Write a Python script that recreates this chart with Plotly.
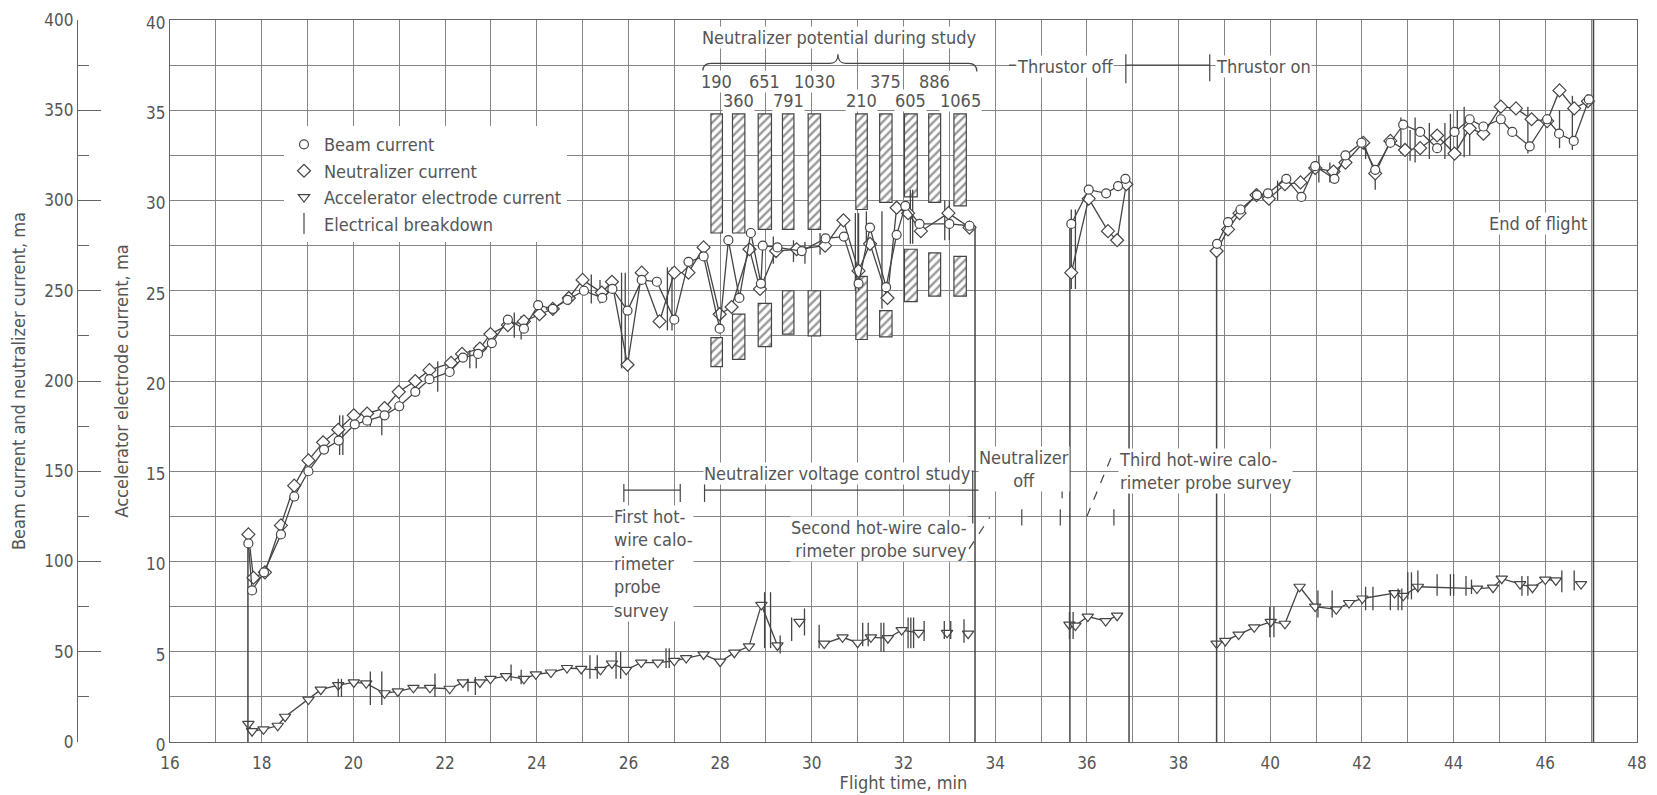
import plotly.graph_objects as go

# ---------------- data ----------------
# Beam current, ma (left outer scale 0-400); None separates thrusting periods
beam_t = [17.71, 17.79, 18.05, 18.42, 18.71, 19.02, 19.36, 19.68, 20.03, 20.30,
          20.68, 21.00, 21.35, 21.66, 22.10, 22.39, 22.72, 23.02, 23.37, 23.72,
          24.03, 24.35, 24.67, 25.03, 25.43, 25.65, 25.98, 26.29, 26.62, 27.00,
          27.31, 27.64, 27.99, 28.18, 28.42, 28.67, 28.89, 28.93, 29.25, 29.78,
          30.30, 30.70, 31.02, 31.27, 31.62, 31.85, 32.04, 32.35, 33.00, 33.44,
          None,
          35.66, 36.04, 36.42, 36.68, 36.84,
          None,
          38.84, 39.08, 39.35, 39.71, 39.95, 40.35, 40.68, 40.98, 41.40, 41.64,
          41.99, 42.29, 42.62, 42.90, 43.27, 43.64, 44.02, 44.35, 44.65, 45.03,
          45.28, 45.66, 46.04, 46.30, 46.62, 46.95]
beam_v = [110, 84, 94, 115, 136, 150, 162, 167, 176, 178,
          181, 186, 194, 201, 205, 213, 215, 221, 234, 229,
          242, 240, 245, 250, 246, 251, 239, 256, 255, 234,
          266, 269, 229, 278, 246, 282, 254, 275, 274, 272,
          279, 280, 254, 285, 252, 281, 297, 287, 287, 286,
          None,
          287, 306, 304, 308, 312,
          None,
          276, 288, 295, 303, 304, 312, 302, 319, 312, 325,
          332, 317, 332, 342, 338, 329, 338, 345, 341, 345,
          338, 330, 345, 337, 333, 356]

# Neutralizer current, ma (outer scale)
neut_t = [17.71, 17.82, 18.07, 18.42, 18.71, 19.02, 19.34, 19.67, 20.01, 20.30,
          20.68, 20.99, 21.35, 21.66, 22.13, 22.37, 22.76, 22.99, 23.37, 23.72,
          24.06, 24.35, 24.70, 25.00, 25.42, 25.64, 25.98, 26.29, 26.68, 27.00,
          27.31, 27.64, 27.99, 28.25, 28.64, 28.87, 29.22, 29.67, 30.29, 30.69,
          31.02, 31.27, 31.65, 31.85, 32.10, 32.38, 32.98, 33.44,
          None,
          35.66, 36.04, 36.46, 36.66, 36.86,
          None,
          38.83, 39.08, 39.33, 39.70, 39.97, 40.32, 40.66, 40.98, 41.38, 41.64,
          42.03, 42.29, 42.62, 42.94, 43.27, 43.64, 44.02, 44.35, 44.65, 45.03,
          45.36, 45.70, 46.04, 46.31, 46.63, 46.93]
neut_v = [115, 91, 94, 120, 142, 156, 166, 173, 181, 182,
          185, 194, 200, 206, 210, 215, 218, 226, 231, 233,
          237, 240, 246, 256, 249, 255, 209, 260, 233, 260,
          260, 274, 237, 241, 273, 251, 272, 273, 275, 289,
          261, 276, 246, 296, 293, 283, 293, 285,
          None,
          260, 301, 283, 278, 309,
          None,
          272, 284, 293, 303, 301, 309, 310, 318, 316, 321,
          332, 315, 333, 328, 329, 336, 326, 340, 337, 352,
          351, 345, 344, 361, 351, 355]

# Accelerator electrode current, ma (inner scale 0-40)
acc_t = [17.71, 17.79, 18.04, 18.35, 18.51, 19.02, 19.29, 19.67, 20.01, 20.28,
         20.68, 20.97, 21.31, 21.67, 22.10, 22.39, 22.76, 22.99, 23.33, 23.72,
         23.98, 24.31, 24.66, 24.97, 25.39, 25.64, 25.95, 26.28, 26.64, 27.00,
         27.26, 27.64, 28.00, 28.31, 28.63, 28.90, 29.25,
         None, 29.73,
         None, 30.27, 30.67, 31.00, 31.29, 31.66, 31.96, 32.33,
         None, 32.95,
         None, 33.41,
         None, 35.62, 35.75, 36.02, 36.41, 36.66,
         None, 38.83, 39.02, 39.31, 39.65, 40.01, 40.32, 40.64, 40.98, 41.44,
         41.72, 42.01, 42.71, 42.90, 43.22, 44.51, 44.86, 45.05, 45.45, 45.72,
         46.00, 46.23,
         None, 46.78]
acc_v = [1.0, 0.6, 0.7, 0.9, 1.4, 2.35, 2.9, 3.15, 3.3, 3.25,
         2.7, 2.8, 3.0, 3.0, 2.95, 3.3, 3.3, 3.5, 3.65, 3.5,
         3.75, 3.85, 4.1, 4.05, 4.0, 4.35, 4.0, 4.4, 4.4, 4.5,
         4.65, 4.85, 4.45, 4.95, 5.3, 7.6, 5.35,
         None, 6.65,
         None, 5.45, 5.8, 5.5, 5.8, 5.75, 6.2, 6.05,
         None, 6.05,
         None, 6.0,
         None, 6.5, 6.45, 6.95, 6.7, 7.0,
         None, 5.45, 5.6, 5.95, 6.35, 6.65, 6.55, 8.6, 7.5, 7.35,
         7.7, 7.95, 8.25, 8.1, 8.6, 8.5, 8.55, 9.05, 8.75, 8.55,
         9.0, 8.95,
         None, 8.75]

# Thrustor on/off transitions: beam trace jumps from 0 to this level
jump_t = [17.70, 33.56, 35.63, 36.92, 38.83]
jump_top = [110, 286, 287, 312, 272]
end_of_flight_t = 47.05

# Electrical breakdowns on the beam/neutralizer curves (outer scale)
bd_beam_t = [19.70, 19.77, 20.37, 20.62, 21.84, 22.54, 22.68, 23.51, 23.66, 25.19,
             25.38, 25.85, 25.93, 26.85, 26.95, 29.16, 29.60, 29.85, 30.18, 30.95,
             31.02, 31.19, 31.53, 32.15, 32.20, 32.90, 33.00, 35.66, 35.75, 40.16,
             41.06, 41.30, 42.08, 42.29, 42.85, 43.05, 43.16, 43.47, 43.81, 43.93,
             44.08, 44.23, 44.35, 45.62, 46.31, 46.59]
bd_beam_lo = [159, 159, 175, 170, 194, 207, 207, 224, 223, 243,
              243, 207, 207, 228, 228, 265, 266, 265, 270, 250,
              250, 275, 240, 276, 276, 278, 278, 251, 251, 300,
              310, 310, 323, 306, 326, 322, 321, 323, 323, 325,
              324, 324, 325, 326, 329, 328]
bd_beam_hi = [181, 181, 184, 186, 211, 217, 220, 238, 236, 259,
              256, 260, 260, 263, 263, 280, 278, 277, 282, 293,
              293, 294, 294, 306, 306, 300, 300, 295, 295, 311,
              325, 321, 333, 316, 346, 339, 346, 343, 343, 348,
              350, 352, 346, 352, 350, 358]

# Electrical breakdowns on the accelerator curve (inner scale)
bd_acc_t = [19.67, 19.74, 20.37, 20.62, 21.78, 22.50, 22.66, 23.44, 23.66, 25.16,
            25.32, 25.73, 25.83, 26.82, 26.89, 28.97, 29.10, 29.31, 29.56, 29.84,
            30.16, 31.11, 31.23, 31.51, 31.57, 32.10, 32.16, 32.22, 32.45, 32.89,
            33.03, 33.32, 35.62, 35.70, 39.99, 40.08, 41.04, 41.35, 42.08, 42.24,
            42.62, 42.79, 42.87, 43.00, 43.08, 43.22, 43.64, 43.93, 44.00, 44.27,
            44.39, 45.49, 45.62, 46.36, 46.63]
bd_acc_lo = [2.5, 2.5, 2.05, 2.05, 2.5, 2.8, 2.6, 3.4, 3.2, 3.5,
             3.5, 3.5, 3.5, 4.1, 4.1, 5.2, 5.2, 4.9, 5.6, 5.9,
             5.2, 5.3, 5.3, 5.0, 5.0, 5.2, 5.2, 5.2, 5.6, 5.7,
             5.7, 5.5, 5.7, 5.7, 5.8, 5.8, 6.9, 6.9, 7.3, 7.3,
             7.3, 7.3, 7.3, 7.9, 7.9, 8.3, 8.1, 8.1, 8.1, 8.1,
             8.2, 8.1, 8.1, 8.3, 8.4]
bd_acc_hi = [3.5, 3.5, 3.9, 3.9, 3.8, 3.5, 3.6, 4.3, 4.0, 4.8,
             4.8, 5.0, 5.0, 5.2, 5.2, 8.3, 8.3, 5.9, 6.9, 7.4,
             6.5, 6.6, 6.6, 6.6, 6.6, 6.9, 6.9, 6.9, 6.7, 6.7,
             6.7, 6.8, 7.2, 7.2, 7.5, 7.5, 8.4, 8.4, 8.6, 8.6,
             8.4, 8.5, 8.5, 9.4, 9.4, 9.5, 9.3, 9.3, 9.3, 9.2,
             9.0, 9.2, 9.2, 9.5, 9.5]

# Neutralizer potential during study (volts) - hatched periods (inner scale units)
pot_labels = ["190", "360", "651", "791", "1030", "210", "375", "605", "886", "1065"]
pot_start = [27.80, 28.27, 28.83, 29.36, 29.92, 30.96, 31.48, 32.02, 32.55, 33.10]
pot_end = [28.05, 28.54, 29.12, 29.61, 30.19, 31.21, 31.75, 32.30, 32.81, 33.37]
pot_upper_top = [34.8, 34.8, 34.8, 34.8, 34.8, 34.8, 34.8, 34.8, 34.8, 34.8]
pot_upper_bot = [28.2, 28.2, 28.4, 28.4, 28.4, 29.5, 29.9, 30.2, 29.9, 29.7]
pot_lower_top = [22.4, 23.7, 24.3, 25.0, 25.0, 25.8, 23.9, 27.3, 27.1, 26.9]
pot_lower_bot = [20.8, 21.2, 21.9, 22.6, 22.5, 22.3, 22.45, 24.4, 24.7, 24.7]

# ---------------- styling ----------------
FONT = "Liberation Sans Narrow, DejaVu Sans Condensed, Arial Narrow, Liberation Sans, sans-serif"
INK = "#454545"
GRID = "#858585"
TXT = "#555555"
W, H = 1657, 795
ML, MR, MT, MB = 0, 20, 20, 53
PW = W - ML - MR
AFS = 18  # annotation font size


def segs(ts, lo, hi):
    xs, ys = [], []
    for t, a, b in zip(ts, lo, hi):
        xs += [t, t, None]
        ys += [a, b, None]
    return xs, ys


fig = go.Figure()

# hatched neutralizer-potential periods
centers = [(a + b) / 2 for a, b in zip(pot_start, pot_end)]
widths = [b - a for a, b in zip(pot_start, pot_end)]
hatch = dict(color="white", line=dict(color=INK, width=1.2),
             pattern=dict(shape="/", fgcolor="#333333", bgcolor="white", size=6, solidity=0.4))
fig.add_trace(go.Bar(x=centers, width=widths, base=pot_upper_bot,
                     y=[t - b for t, b in zip(pot_upper_top, pot_upper_bot)],
                     marker=hatch, showlegend=False, hoverinfo="skip", yaxis="y"))
fig.add_trace(go.Bar(x=centers, width=widths, base=pot_lower_bot,
                     y=[t - b for t, b in zip(pot_lower_top, pot_lower_bot)],
                     marker=hatch, showlegend=False, hoverinfo="skip", yaxis="y"))

# accelerator current
fig.add_trace(go.Scatter(x=acc_t, y=acc_v, mode="lines+markers", yaxis="y",
                         line=dict(color=INK, width=1.3),
                         marker=dict(symbol="triangle-down", size=10, color="white",
                                     line=dict(color=INK, width=1.2)),
                         showlegend=False, hoverinfo="skip"))
bx, by = segs(bd_acc_t, bd_acc_lo, bd_acc_hi)
fig.add_trace(go.Scatter(x=bx, y=by, mode="lines", yaxis="y",
                         line=dict(color=INK, width=1.3), showlegend=False, hoverinfo="skip"))
# end of flight line (full height of the inner scale)
fig.add_trace(go.Scatter(x=[end_of_flight_t, end_of_flight_t], y=[0, 40], mode="lines", yaxis="y",
                         line=dict(color=INK, width=1.6), showlegend=False, hoverinfo="skip"))

# beam / neutralizer on the outer scale
jx, jy = segs(jump_t, [0] * len(jump_t), jump_top)
fig.add_trace(go.Scatter(x=jx, y=jy, mode="lines", yaxis="y2",
                         line=dict(color=INK, width=1.5), showlegend=False, hoverinfo="skip"))
bx, by = segs(bd_beam_t, bd_beam_lo, bd_beam_hi)
fig.add_trace(go.Scatter(x=bx, y=by, mode="lines", yaxis="y2",
                         line=dict(color=INK, width=1.3), showlegend=False, hoverinfo="skip"))
fig.add_trace(go.Scatter(x=neut_t, y=neut_v, mode="lines+markers", yaxis="y2",
                         line=dict(color=INK, width=1.3),
                         marker=dict(symbol="diamond", size=10, color="white",
                                     line=dict(color=INK, width=1.2)),
                         showlegend=False, hoverinfo="skip"))
fig.add_trace(go.Scatter(x=beam_t, y=beam_v, mode="lines+markers", yaxis="y2",
                         line=dict(color=INK, width=1.3),
                         marker=dict(symbol="circle", size=9, color="white",
                                     line=dict(color=INK, width=1.2)),
                         showlegend=False, hoverinfo="skip"))

# legend entries
for name, sym, size in [("Beam current", "circle-open", 9),
                        ("Neutralizer current", "diamond-open", 10),
                        ("Accelerator electrode current", "triangle-down-open", 10),
                        ("Electrical breakdown", "line-ns-open", 15)]:
    fig.add_trace(go.Scatter(x=[None], y=[None], mode="markers", name=name, yaxis="y",
                             marker=dict(symbol=sym, size=size, color=INK,
                                         line=dict(color=INK, width=1.2))))

# ---------------- annotations & guide marks ----------------
ann = []
shapes = []


def text(x, y, s, xanchor="center", align="center", size=AFS, yanchor="middle"):
    ann.append(dict(x=x, y=y, xref="x", yref="y", text=s, showarrow=False,
                    xanchor=xanchor, yanchor=yanchor, align=align, bgcolor="white",
                    borderpad=0, font=dict(size=size, color=TXT, family=FONT)))


def seg(x0, y0, x1, y1, dash="solid", width=1.2):
    shapes.append(dict(type="line", xref="x", yref="y", x0=x0, y0=y0, x1=x1, y1=y1,
                       line=dict(color=INK, width=width, dash=dash), layer="above"))


# neutralizer potential labels and brace
for i, (lab, c) in enumerate(zip(pot_labels, centers)):
    text(c, 36.6 if i % 2 == 0 else 35.55, lab)
text(30.6, 39.05, "Neutralizer potential during study", size=18)
shapes.append(dict(type="path", xref="x", yref="y", layer="above",
                   path="M 27.62,37.15 Q 27.62,37.6 27.8,37.6 L 30.4,37.6 Q 30.57,37.6 30.57,38.1 "
                        "Q 30.57,37.6 30.74,37.6 L 33.42,37.6 Q 33.6,37.6 33.6,37.15",
                   line=dict(color=INK, width=1.2)))

# thrustor off / on
seg(34.3, 37.5, 34.45, 37.5)
text(34.45, 37.4, "Thrustor off", xanchor="left")
seg(36.85, 36.5, 36.85, 38.1)
seg(36.85, 37.5, 38.68, 37.5)
seg(38.68, 36.6, 38.68, 38.1)
text(38.8, 37.4, "Thrustor on", xanchor="left")

text(46.93, 28.75, "End of flight", xanchor="right")

# study brackets
text(30.55, 14.88, "Neutralizer voltage control study")
seg(27.66, 13.95, 33.51, 13.95)
seg(27.66, 13.3, 27.66, 14.3)
seg(33.51, 12.1, 33.51, 15.05)
seg(25.9, 13.95, 27.13, 13.95)
seg(25.9, 13.3, 25.9, 14.3)
seg(27.13, 13.3, 27.13, 14.3)
text(25.66, 9.9, "First hot-<br>wire calo-<br>rimeter<br>probe<br>survey", xanchor="left", align="left")
seg(33.51, 13.95, 35.46, 13.95)
seg(35.46, 13.5, 35.46, 14.25)
text(34.62, 15.1, "Neutralizer<br>off")
for t in [34.58, 35.42, 36.59]:
    seg(t, 12.0, t, 12.9)
text(33.4, 11.25, "Second hot-wire calo-<br>rimeter probe survey", xanchor="right", align="right")
seg(33.43, 10.7, 33.88, 12.45, dash="dash")
text(36.67, 15.0, "Third hot-wire calo-<br>rimeter probe survey", xanchor="left", align="left")
seg(36.0, 12.5, 36.55, 15.9, dash="dash")

fig.update_layout(
    width=W, height=H,
    margin=dict(l=ML, r=MR, t=MT, b=MB, autoexpand=False),
    paper_bgcolor="white", plot_bgcolor="white",
    font=dict(family=FONT, size=17, color=TXT),
    barmode="overlay",
    showlegend=True,
    legend=dict(x=(284 - ML) / PW, y=0.853, xanchor="left", yanchor="top",
                bgcolor="white", borderwidth=0, font=dict(size=AFS, color=TXT, family=FONT),
                tracegroupgap=0, itemwidth=30),
    xaxis=dict(domain=[(170 - ML) / PW, 1], range=[16, 48], tick0=16, dtick=2,
               showgrid=True, gridcolor=GRID, gridwidth=1,
               minor=dict(dtick=1, showgrid=True, gridcolor=GRID, gridwidth=1),
               showline=True, linecolor="#666", linewidth=1.2, mirror=True,
               ticks="", zeroline=False, automargin=False, ticklabelstandoff=5,
               title=dict(text="Flight time, min", standoff=3, font=dict(size=18)),
               tickfont=dict(size=17)),
    yaxis=dict(range=[0, 40], tick0=0, dtick=5,
               showgrid=True, gridcolor=GRID, gridwidth=1,
               minor=dict(dtick=2.5, showgrid=True, gridcolor=GRID, gridwidth=1),
               showline=True, linecolor="#666", linewidth=1.2, mirror=True,
               ticks="", zeroline=False, automargin=False, ticklabelshift=3,
               title=dict(text="Accelerator electrode current, ma", standoff=12, font=dict(size=18)),
               tickfont=dict(size=17)),
    yaxis2=dict(range=[0, 400], tick0=0, dtick=50, overlaying="y", anchor="free",
                position=(77 - ML) / PW, side="left", showgrid=False, zeroline=False,
                showline=True, linecolor="#666", linewidth=1.2,
                ticks="inside", ticklen=23, tickcolor="#666", tickwidth=1.2,
                minor=dict(dtick=25, ticks="inside", ticklen=11, tickcolor="#666", showgrid=False),
                automargin=False,
                title=dict(text="Beam current and neutralizer current, ma", standoff=13, font=dict(size=18)),
                tickfont=dict(size=17)),
    annotations=ann,
    shapes=shapes,
)

fig.write_html("out.html")
